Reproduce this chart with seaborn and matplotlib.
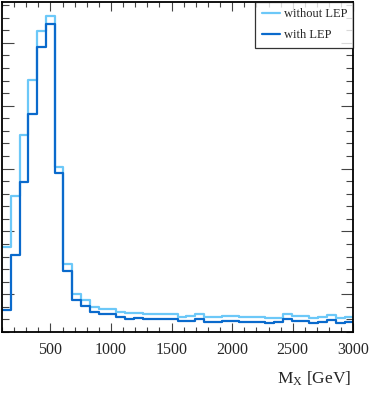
import numpy as np
import pandas as pd
import matplotlib
matplotlib.use("Agg")
import matplotlib.pyplot as plt
from matplotlib.ticker import FixedLocator, MultipleLocator
from matplotlib.lines import Line2D
import seaborn as sns

# ---- data (arbitrary y units) ----
bin_lo = 100.0
bin_hi = 3000.0
n_bins = 40
without_lep = [1.35, 2.17, 3.14, 4.01, 4.79, 5.02, 2.63, 1.08, 0.60, 0.51,
               0.40, 0.36, 0.36, 0.32, 0.30, 0.31, 0.28, 0.28, 0.29, 0.29,
               0.24, 0.26, 0.28, 0.24, 0.24, 0.25, 0.25, 0.24, 0.24, 0.24,
               0.23, 0.23, 0.29, 0.25, 0.25, 0.23, 0.24, 0.27, 0.23, 0.24]
with_lep = [0.35, 1.23, 2.38, 3.47, 4.54, 4.90, 2.53, 0.97, 0.51, 0.42,
            0.32, 0.29, 0.29, 0.24, 0.21, 0.23, 0.20, 0.21, 0.21, 0.21,
            0.17, 0.17, 0.20, 0.16, 0.16, 0.17, 0.17, 0.16, 0.16, 0.16,
            0.15, 0.16, 0.20, 0.17, 0.17, 0.15, 0.16, 0.19, 0.15, 0.16]
series_names = ["without LEP", "with LEP"]
series_colors = ["#6CC8F8", "#0A6ACC"]
x_ticks = [500, 1000, 1500, 2000, 2500, 3000]
x_label = r"M$_{\mathrm{X}}$ [GeV]"

edges = np.linspace(bin_lo, bin_hi, n_bins + 1)
centers = 0.5 * (edges[:-1] + edges[1:])
df = pd.DataFrame({
    "mass": np.concatenate([centers, centers]),
    "w": np.concatenate([without_lep, with_lep]),
    "series": [series_names[0]] * n_bins + [series_names[1]] * n_bins,
})

sns.set_style("ticks")
plt.rcParams["font.family"] = ["Liberation Serif", "DejaVu Serif"]
plt.rcParams["mathtext.fontset"] = "custom"
plt.rcParams["mathtext.rm"] = "Liberation Serif"
plt.rcParams["mathtext.it"] = "Liberation Serif:italic"

fig = plt.figure(figsize=(3.74, 3.93), dpi=100)
ax = fig.add_axes([2 / 374, 1 - 332 / 393, (353.3 - 2) / 374, (332 - 2) / 393])

palette = dict(zip(series_names, series_colors))
for name in series_names:
    sub = df[df["series"] == name].reset_index(drop=True)
    sns.histplot(data=sub, x="mass", weights="w",
                 bins=n_bins, binrange=(bin_lo, bin_hi),
                 element="step", fill=False,
                 color=palette[name], linewidth=1.6, ax=ax)

ax.set_xlim(bin_lo, bin_hi)
ax.set_ylim(0, 5.25)
ax.set_ylabel("")
ax.set_xlabel(x_label, fontsize=12.5, ha="right", va="top")
ax.xaxis.set_label_coords(0.995, -0.114)

ax.xaxis.set_major_locator(FixedLocator(x_ticks))
ax.xaxis.set_minor_locator(MultipleLocator(100))
ax.yaxis.set_major_locator(FixedLocator([0.6, 1.6, 2.6, 3.6, 4.6]))
ax.yaxis.set_minor_locator(MultipleLocator(0.2))
ax.set_yticklabels([])

ax.tick_params(axis="x", which="major", direction="in", length=6.5, width=0.8,
               top=True, bottom=True, labelsize=11.5, pad=7, color="#444444")
ax.tick_params(axis="x", which="minor", direction="in", length=3.6, width=0.8,
               top=True, bottom=True, color="#444444")
ax.tick_params(axis="y", which="major", direction="in", length=8.5, width=0.8,
               left=True, right=True, labelleft=False, color="#444444")
ax.tick_params(axis="y", which="minor", direction="in", length=4.8, width=0.8,
               left=True, right=True, color="#444444")
for s in ax.spines.values():
    s.set_linewidth(1.3)
    s.set_color("black")
    s.set_visible(True)

handles = [Line2D([0], [0], color=c, lw=1.6) for c in series_colors]
leg = ax.legend(handles, series_names, loc="upper right", fontsize=9,
                frameon=True, fancybox=False, handlelength=1.44,
                handletextpad=0.32, borderaxespad=0.0, borderpad=0.5,
                labelspacing=0.72)
leg.get_frame().set_edgecolor("black")
leg.get_frame().set_linewidth(0.9)

fig.savefig("out.png", dpi=100)
